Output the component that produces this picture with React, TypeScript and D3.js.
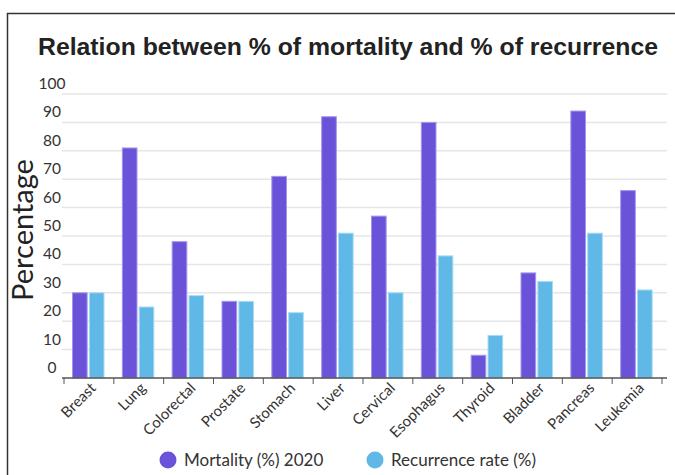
import * as d3 from "d3";

const categories = [
  "Breast", "Lung", "Colorectal", "Prostate", "Stomach", "Liver",
  "Cervical", "Esophagus", "Thyroid", "Bladder", "Pancreas", "Leukemia",
];
const mortality = [30, 81, 48, 27, 71, 92, 57, 90, 8, 37, 94, 66];
const recurrence = [30, 25, 29, 27, 23, 51, 30, 43, 15, 34, 51, 31];
const seriesNames = ["Mortality (%) 2020", "Recurrence rate (%)"];
const yTicks = [0, 10, 20, 30, 40, 50, 60, 70, 80, 90, 100];

const colors = ["#6b53d9", "#5fb8e5"];
const strokes = ["#a596ec", "#a9dcf4"];
const tickFont = "Lato, 'Open Sans', sans-serif";

const App = () => {
  const width = 675;
  const height = 475;
  const x0 = 64;
  const x1 = 662;
  const yTop = 94;
  const yBottom = 378;

  const x = d3.scaleBand<string>().domain(categories).range([x0, x1]);
  const inner = d3
    .scaleBand<number>()
    .domain([0, 1])
    .range([8.5, 40])
    .paddingInner(0.13);
  const y = d3.scaleLinear().domain([0, 100]).range([yBottom, yTop]);

  const series = [mortality, recurrence];
  const ticksX = [...categories.map((c) => x(c) as number), x1];

  return (
    <svg
      width={width}
      height={height}
      style={{ position: "absolute", left: 0, top: 0 }}
    >
      <rect x={0} y={0} width={width} height={height} fill="#fff" />
      <rect
        x={7.5}
        y={13.5}
        width={width + 10}
        height={height + 10}
        fill="none"
        stroke="#333"
        strokeWidth={1.5}
      />
      <text
        x={348}
        y={55}
        textAnchor="middle"
        fontFamily="'Liberation Sans', Arial, sans-serif"
        fontWeight="bold"
        fontSize={24.8}
        fill="#222"
      >
        Relation between % of mortality and % of recurrence
      </text>

      {yTicks.map((t) => (
        <g key={t}>
          {t > 0 && (
            <line
              x1={62}
              x2={667}
              y1={y(t)}
              y2={y(t)}
              stroke="#e6e6e6"
              strokeWidth={1.5}
            />
          )}
          <text
            x={52}
            y={y(t) - 5}
            textAnchor="middle"
            fontFamily={tickFont}
            fontSize={15.5}
            fill="#333"
          >
            {t}
          </text>
        </g>
      ))}

      <text
        transform={`translate(33,230) rotate(-90)`}
        textAnchor="middle"
        fontFamily={tickFont}
        fontSize={29}
        fill="#222"
      >
        Percentage
      </text>

      {categories.map((c, i) => (
        <g key={c} transform={`translate(${x(c)},0)`}>
          {series.map((s, j) => (
            <rect
              key={j}
              x={inner(j)}
              y={y(s[i])}
              width={inner.bandwidth()}
              height={yBottom - y(s[i])}
              fill={colors[j]}
              stroke={strokes[j]}
              strokeWidth={1}
            />
          ))}
        </g>
      ))}

      <line
        x1={62}
        x2={667}
        y1={yBottom}
        y2={yBottom}
        stroke="#555"
        strokeWidth={1.5}
      />
      {ticksX.map((tx, i) => (
        <line
          key={i}
          x1={tx}
          x2={tx}
          y1={yBottom}
          y2={yBottom + 6}
          stroke="#555"
          strokeWidth={1}
        />
      ))}
      {categories.map((c) => (
        <text
          key={c}
          transform={`translate(${(x(c) as number) + x.bandwidth() / 2 + 8},${
            yBottom + 11
          }) rotate(-45)`}
          textAnchor="end"
          fontFamily={tickFont}
          fontSize={15}
          fill="#333"
        >
          {c}
        </text>
      ))}

      {seriesNames.map((name, j) => (
        <g key={name} transform={`translate(${[168, 375][j]},460)`}>
          <circle r={8.5} fill={colors[j]} />
          <text
            x={16}
            y={6}
            fontFamily={tickFont}
            fontSize={17}
            fill="#333"
          >
            {name}
          </text>
        </g>
      ))}
    </svg>
  );
};

export default App;
